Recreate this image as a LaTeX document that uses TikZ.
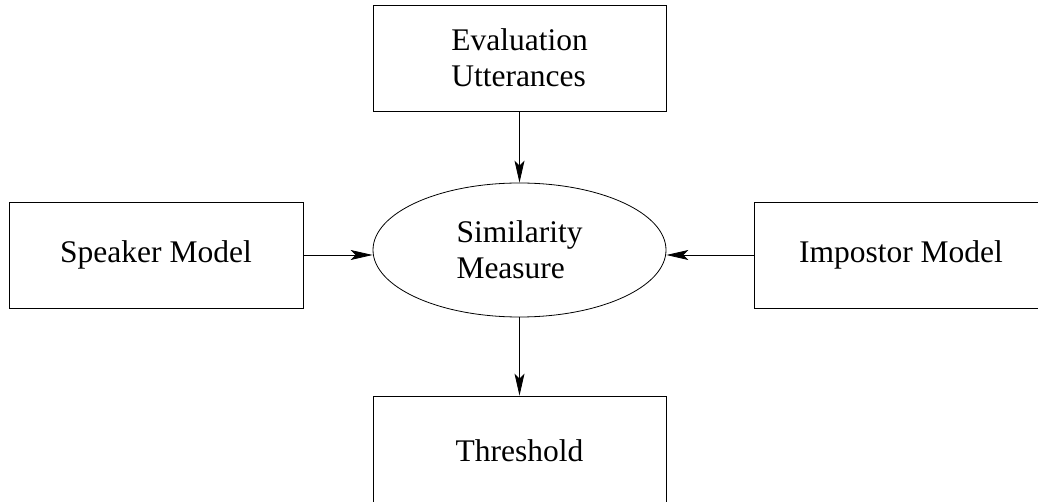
\documentclass[tikz,border=0pt]{standalone}
\usepackage{fontspec}
\setmainfont{Liberation Serif}
\usetikzlibrary{shapes.geometric,arrows.meta}
\begin{document}
\begin{tikzpicture}[x=1pt,y=-1pt,
  every node/.style={font=\fontsize{31.5}{36}\selectfont, inner sep=0pt, align=left},
  blockbox/.style={draw, line width=0.8pt, rectangle},
  simell/.style={draw, line width=0.8pt, ellipse, minimum width=293pt, minimum height=134pt},
  flow/.style={line width=0.8pt, -{Stealth[length=22pt,width=10pt,inset=5pt]}}]
  \useasboundingbox (0,0) rectangle (1038,502);
  % blocks
  \node[blockbox, minimum width=293pt, minimum height=106pt] (eval) at (519.5,58) {Evaluation\\Utterances};
  \node[blockbox, minimum width=294pt, minimum height=106pt] (spk) at (156,255) {Speaker Model};
  \node[blockbox, minimum width=294pt, minimum height=106pt] (imp) at (901,255) {Impostor Model};
  \node[blockbox, minimum width=293pt, minimum height=110pt] (thr) at (519.5,451) {Threshold};
  \node[simell] (sim) at (519.5,250) {Similarity\\Measure};
  % connectors
  \draw[flow] (eval.south) -- (sim.north);
  \draw[flow] (sim.south) -- (thr.north);
  \draw[flow] (spk.east) -- (spk.east -| sim.west);
  \draw[flow] (imp.west) -- (imp.west -| sim.east);
\end{tikzpicture}
\end{document}
